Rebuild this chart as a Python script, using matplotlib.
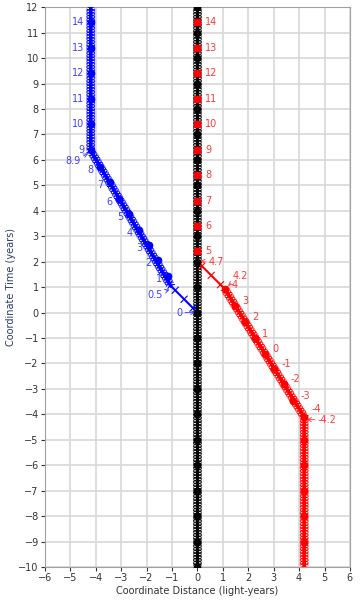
# spacetime diagram: earth (black), incoming red traveler, outgoing blue traveler

import matplotlib
matplotlib.use('Agg')
import matplotlib.pyplot as plt
import matplotlib.patheffects as pe

# earth worldline
earth_x = [0, 0]
earth_t = [-10, 12]
earth_dot_t = list(range(-10, 13))

# red clock readings seen at earth after arrival
red_sq_t = [2.4, 3.4, 4.4, 5.4, 6.4, 7.4, 8.4, 9.4, 10.4, 11.4]
red_sq_labels = ['5', '6', '7', '8', '9', '10', '11', '12', '13', '14']

# red traveler path (thick part, then thin light-like part)
red_x = [4.2, 4.2, 1.08, 0]
red_t = [-10, -4.1, 0.92, 2.0]
red_dot_x = [4.19, 3.77, 3.40, 3.02, 2.65, 2.26, 1.87, 1.47, 1.08]
red_dot_t = [-4.10, -3.47, -2.81, -2.20, -1.61, -1.02, -0.37, 0.26, 0.91]
red_dot_labels = ['-4', '-3', '-2', '-1', '0', '1', '2', '3', '4']
red_vert_dot_t = [-5, -6, -7, -8, -9]

# blue traveler path (thin part, then thick part, then at rest)
blue_x = [0, -1.05, -4.2, -4.2]
blue_t = [0, 1.05, 6.36, 12]
blue_dot_x = [-1.15, -1.54, -1.90, -2.30, -2.68, -3.08, -3.44, -3.84,
              -4.2, -4.2, -4.2, -4.2, -4.2, -4.2]
blue_dot_t = [1.43, 2.06, 2.65, 3.26, 3.89, 4.48, 5.14, 5.73,
              6.38, 7.4, 8.4, 9.4, 10.4, 11.4]
blue_dot_labels = ['1', '2', '3', '4', '5', '6', '7', '8',
                   '9', '10', '11', '12', '13', '14']

BLUE = '#0000ff'
BLUE_TXT = '#4040ff'
RED = '#ff0000'
RED_TXT = '#ff3a3a'

plt.rcParams['font.family'] = ['DejaVu Sans']

fig = plt.figure(figsize=(3.6, 6.0), dpi=100)
ax = fig.add_axes([0.125, 0.055, 0.847, 0.933])


def dense():
    # many small crossing ticks make the hatched look of the thick worldlines
    fx = [pe.TickedStroke(spacing=2.0, angle=a, length=1.6, linewidth=0.7)
          for a in (60, -60, 120, -120)]
    return fx + [pe.Normal()]


def sparse():
    fx = [pe.TickedStroke(spacing=9, angle=a, length=0.35, linewidth=0.8)
          for a in (90, -90)]
    return fx + [pe.Normal()]


# earth
ax.plot(earth_x, earth_t, color='black', lw=2, path_effects=dense(), zorder=3)
ax.plot([0] * len(earth_dot_t), earth_dot_t, 'o', color='black', ms=4.5, zorder=4)
ax.plot([0] * len(red_sq_t), red_sq_t, 's', color=RED, ms=4, zorder=5)
for t, lab in zip(red_sq_t, red_sq_labels):
    ax.text(0.3, t, lab, color=RED_TXT, fontsize=7, va='center', ha='left')

# red traveler
ax.plot(red_x[:3], red_t[:3], color=RED, lw=2.5, path_effects=dense(), zorder=3)
ax.plot(red_x[2:], red_t[2:], color=RED, lw=1.5, path_effects=sparse(), zorder=3)
ax.plot(red_dot_x, red_dot_t, 'o', color=RED, ms=4.5, zorder=4)
ax.plot([4.2] * len(red_vert_dot_t), red_vert_dot_t, 'o', color=RED, ms=4.5, zorder=4)
for x, t, lab in zip(red_dot_x, red_dot_t, red_dot_labels):
    dt = 0.32 if lab == '-4' else 0.18
    ax.text(x + 0.28, t + dt, lab, color=RED_TXT, fontsize=7, va='center', ha='left')

# blue traveler
ax.plot(blue_x[:2], blue_t[:2], color=BLUE, lw=1.5, path_effects=sparse(), zorder=3)
ax.plot(blue_x[1:], blue_t[1:], color=BLUE, lw=2.5, path_effects=dense(), zorder=3)
ax.plot(blue_dot_x, blue_dot_t, 'o', color=BLUE, ms=4.5, zorder=4)
for x, t, lab in zip(blue_dot_x, blue_dot_t, blue_dot_labels):
    dt = -0.12 if x > -4.1 else 0.0
    ax.text(x - 0.25, t + dt, lab, color=BLUE_TXT, fontsize=7, va='center', ha='right')

arr = dict(arrowstyle='->', lw=0.6, shrinkA=0, shrinkB=0)
ax.annotate('0', xy=(-0.08, 0), xytext=(-0.6, 0), color=BLUE_TXT, fontsize=7,
            va='center', ha='right', arrowprops=dict(arr, color=BLUE_TXT))
ax.annotate('0.5', xy=(-1.1, 0.9), xytext=(-1.35, 0.7), color=BLUE_TXT, fontsize=7,
            va='center', ha='right', arrowprops=dict(arr, color=BLUE_TXT))
ax.annotate('8.9', xy=(-4.3, 6.25), xytext=(-4.6, 5.95), color=BLUE_TXT, fontsize=7,
            va='center', ha='right', arrowprops=dict(arr, color=BLUE_TXT))
ax.annotate('4.7', xy=(0.1, 2.02), xytext=(0.42, 2.0), color=RED_TXT, fontsize=7,
            va='center', ha='left', arrowprops=dict(arr, color=RED_TXT))
ax.annotate('4.2', xy=(1.2, 1.05), xytext=(1.4, 1.45), color=RED_TXT, fontsize=7,
            va='center', ha='left', arrowprops=dict(arr, color=RED_TXT))
ax.annotate('-4.2', xy=(4.3, -4.2), xytext=(4.72, -4.22), color=RED_TXT, fontsize=7,
            va='center', ha='left', arrowprops=dict(arr, color=RED_TXT))

ax.set_xlim(-6, 6)
ax.set_ylim(-10, 12)
ax.set_xticks(range(-6, 7))
ax.set_yticks(range(-10, 13))
ax.grid(True, color='#d8d8d8', lw=1.2)
ax.set_axisbelow(True)
for s in ax.spines.values():
    s.set_color('#a0a0a0')
ax.tick_params(labelsize=7, colors='#333333', length=3, width=0.8, pad=1.5)
ax.set_xlabel('Coordinate Distance (light-years)', fontsize=7, color='#333333', labelpad=2)
ax.set_ylabel('Coordinate Time (years)', fontsize=7, color='#2b3b6b', labelpad=2)

plt.savefig('out.png', dpi=100)
